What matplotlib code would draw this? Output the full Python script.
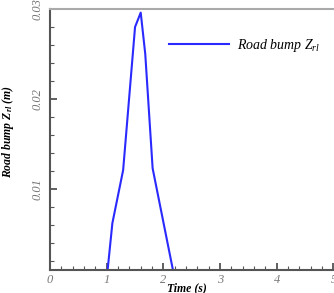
import matplotlib
matplotlib.use("Agg")
import matplotlib.pyplot as plt
from matplotlib.ticker import MultipleLocator

time_s = [1.0, 1.10, 1.29, 1.50, 1.60, 1.68, 1.81, 2.20]
bump_m = [0.0, 0.0062, 0.0121, 0.0280, 0.0296, 0.0250, 0.0123, 0.0]
x_ticks = [0, 1, 2, 3, 4, 5]
x_labels = ["0", "1", "2", "3", "4", "5"]
y_ticks = [0.01, 0.02, 0.03]
y_labels = ["0.01", "0.02", "0.03"]
series_label = r"Road bump $\mathit{Z}_{\mathit{rl}}$"

plt.rcParams['font.family'] = ['Liberation Serif', 'DejaVu Serif']
plt.rcParams['mathtext.fontset'] = 'custom'
plt.rcParams['mathtext.it'] = 'Liberation Serif:italic'
plt.rcParams['mathtext.bf'] = 'Liberation Serif:bold:italic'
plt.rcParams['mathtext.rm'] = 'Liberation Serif'

fig = plt.figure(figsize=(3.34, 2.93), dpi=100)
ax = fig.add_axes([50/334, 1-270/293, 283.5/334, 261/293])

ax.plot(time_s, bump_m, color='#2a2aff', lw=1.5, label=series_label)
ax.set_xlim(0, 5)
ax.set_ylim(0.001, 0.03)

ax.set_xticks(x_ticks)
ax.set_xticklabels(x_labels, fontstyle='italic', color='#777777', fontsize=9)
ax.set_yticks(y_ticks)
ax.set_yticklabels(y_labels, fontstyle='italic', color='#777777', fontsize=9,
                   rotation=90, va='center')
ax.xaxis.set_minor_locator(MultipleLocator(0.2))
ax.yaxis.set_minor_locator(MultipleLocator(0.002))
ax.tick_params(which='major', direction='in', length=5, width=1.2, color='#444444')
ax.tick_params(which='minor', direction='in', length=3, width=0.8, color='#555555')
ax.tick_params(axis='x', which='major', pad=3)
ax.tick_params(axis='y', which='major', pad=5)

for s in ['left', 'bottom']:
    ax.spines[s].set_color('#555555')
    ax.spines[s].set_linewidth(1.5)
ax.spines['top'].set_color('#aaaaaa')
ax.spines['top'].set_linewidth(1.5)
ax.spines['right'].set_visible(False)

ax.set_xlabel("Time (s)", fontweight='bold', fontstyle='italic', fontsize=8.5)
ax.xaxis.set_label_coords(0.483, -0.047)
ax.set_ylabel(r"Road bump $\mathbf{Z}_{\mathbf{rl}}$ (m)", fontweight='bold', fontstyle='italic',
              fontsize=8.5)
ax.yaxis.set_label_coords(-0.12, 0.53)

leg = ax.legend(loc='upper left', bbox_to_anchor=(0.375, 0.94), frameon=False,
                handlelength=4.3, handletextpad=0.6,
                prop={'style': 'italic', 'size': 10})

fig.savefig("out.png", dpi=100)
